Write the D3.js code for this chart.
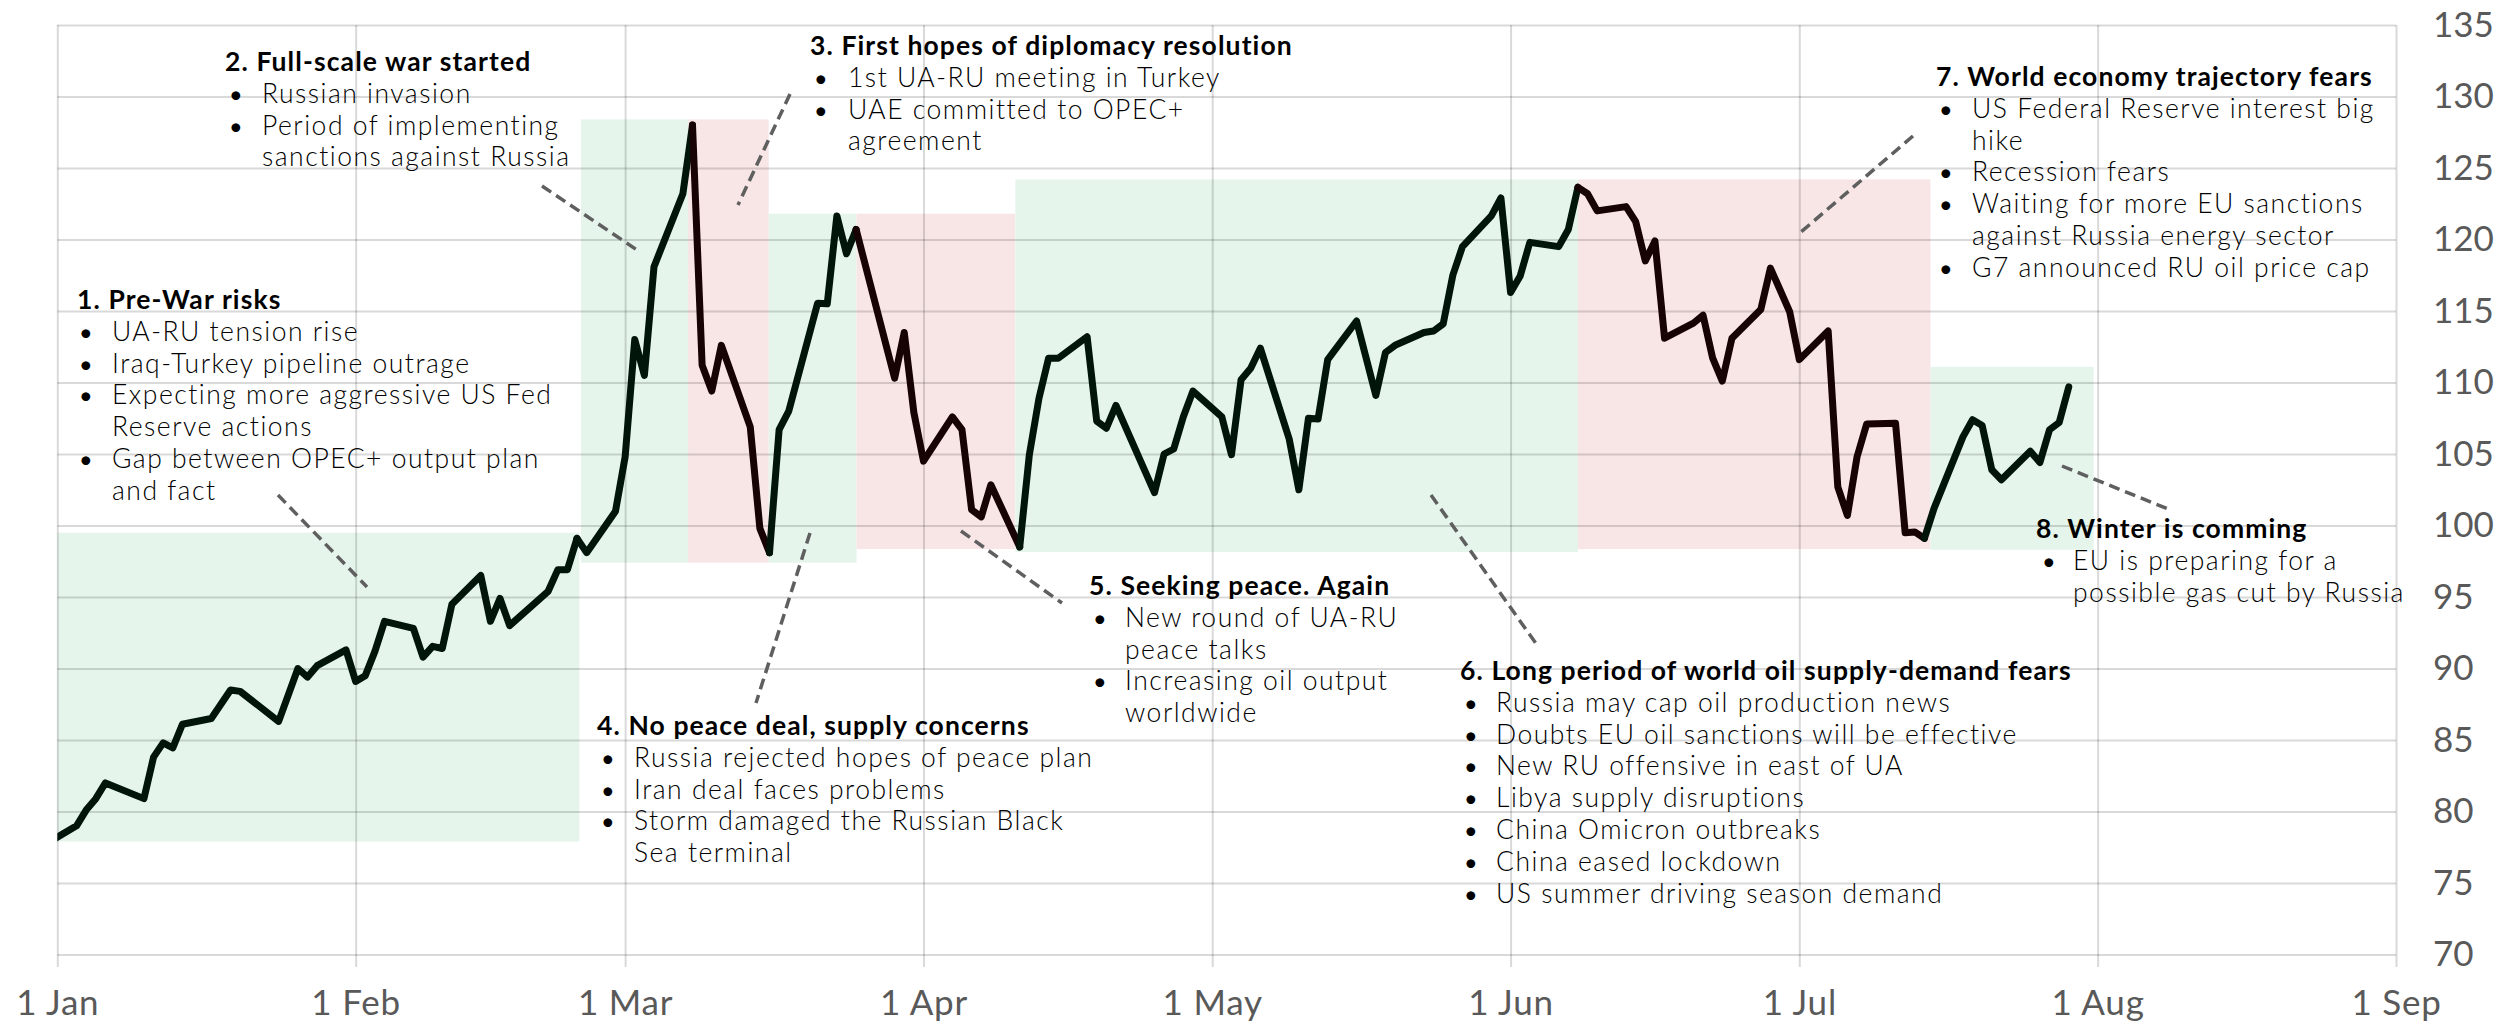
<!DOCTYPE html>
<html>
<head>
<meta charset="utf-8">
<script src="https://cdn.jsdelivr.net/npm/d3@7"></script>
<style>
  body { margin: 0; background: #fff; }
  text { font-family: Lato, "Open Sans", sans-serif; }
</style>
</head>
<body>
<script>
// Brent price (trading days only where the line bends)
const priceDates = [
  "2021-12-31","2022-01-03","2022-01-04","2022-01-05","2022-01-06","2022-01-10","2022-01-11","2022-01-12",
  "2022-01-13","2022-01-14","2022-01-17","2022-01-19","2022-01-20","2022-01-24","2022-01-26","2022-01-27",
  "2022-01-28","2022-01-31","2022-02-01","2022-02-02","2022-02-03","2022-02-04","2022-02-07","2022-02-08",
  "2022-02-09","2022-02-10","2022-02-11","2022-02-14","2022-02-15","2022-02-16","2022-02-17","2022-02-21",
  "2022-02-22","2022-02-23","2022-02-24","2022-02-25","2022-02-28","2022-03-01","2022-03-02","2022-03-03",
  "2022-03-04","2022-03-07","2022-03-08","2022-03-09","2022-03-10","2022-03-11","2022-03-14","2022-03-15",
  "2022-03-16","2022-03-17","2022-03-18","2022-03-21","2022-03-22","2022-03-23","2022-03-24","2022-03-25",
  "2022-03-29","2022-03-30","2022-03-31","2022-04-01","2022-04-04","2022-04-05","2022-04-06","2022-04-07",
  "2022-04-08","2022-04-11","2022-04-12","2022-04-13","2022-04-14","2022-04-15","2022-04-18","2022-04-19",
  "2022-04-20","2022-04-21","2022-04-25","2022-04-26","2022-04-27","2022-04-28","2022-04-29","2022-05-02",
  "2022-05-03","2022-05-04","2022-05-05","2022-05-06","2022-05-09","2022-05-10","2022-05-11","2022-05-12",
  "2022-05-13","2022-05-16","2022-05-18","2022-05-19","2022-05-20","2022-05-23","2022-05-24","2022-05-25",
  "2022-05-26","2022-05-27","2022-05-30","2022-05-31","2022-06-01","2022-06-02","2022-06-03","2022-06-06",
  "2022-06-07","2022-06-08","2022-06-09","2022-06-10","2022-06-13","2022-06-14","2022-06-15","2022-06-16",
  "2022-06-17","2022-06-20","2022-06-21","2022-06-22","2022-06-23","2022-06-24","2022-06-27","2022-06-28",
  "2022-06-30","2022-07-01","2022-07-04","2022-07-05","2022-07-06","2022-07-07","2022-07-08","2022-07-11",
  "2022-07-12","2022-07-13","2022-07-14","2022-07-15","2022-07-18","2022-07-19","2022-07-20","2022-07-21",
  "2022-07-22","2022-07-25","2022-07-26","2022-07-27","2022-07-28","2022-07-29"
];
const priceValues = [
  77.8, 79.0, 80.1, 80.9, 82.0, 80.9, 83.8, 84.8,
  84.45, 86.1, 86.5, 88.5, 88.4, 86.3, 90.0, 89.4,
  90.2, 91.3, 89.1, 89.5, 91.2, 93.3, 92.8, 90.8,
  91.55, 91.4, 94.5, 96.5, 93.3, 94.9, 93.0, 95.4,
  96.9, 96.9, 99.1, 98.1, 101.0, 104.8, 113.0, 110.5,
  118.1, 123.2, 128.0, 111.2, 109.4, 112.6, 106.9, 99.8,
  98.1, 106.7, 108.0, 115.55, 115.5, 121.65, 119.0, 120.7,
  110.3, 113.5, 107.9, 104.5, 107.6, 106.7, 101.1, 100.6,
  102.85, 98.5, 104.95, 108.9, 111.7, 111.7, 113.2, 107.3,
  106.8, 108.4, 102.3, 105.0, 105.35, 107.6, 109.4, 107.6,
  104.95, 110.2, 111.0, 112.4, 106.05, 102.5, 107.5, 107.45,
  111.6, 114.3, 109.1, 112.1, 112.6, 113.5, 113.6, 114.1,
  117.5, 119.5, 121.65, 122.9, 116.3, 117.45, 119.8, 119.5,
  120.7, 123.65, 123.2, 122.0, 122.3, 121.25, 118.5, 119.9,
  113.1, 114.15, 114.7, 111.7, 110.1, 113.1, 115.1, 118.0,
  114.95, 111.6, 113.6, 102.7, 100.7, 104.8, 107.1, 107.15,
  99.5, 99.55, 99.1, 101.2, 106.2, 107.4, 107.0, 103.9,
  103.2, 105.2, 104.4, 106.7, 107.2, 109.7
];

// dates where the line changes colour (period boundaries)
const lineBreaks = ["2022-02-24","2022-03-08","2022-03-16","2022-03-25","2022-04-11","2022-06-08","2022-07-14"];
const lineTypes = ["up","up","down","up","down","up","down","up"];

// shaded periods
const boxStart = ["2022-01-01T00:00","2022-02-24T10:00","2022-03-07T13:00","2022-03-15T22:00","2022-03-25T01:00","2022-04-10T13:00","2022-06-08T00:00","2022-07-14T15:00"];
const boxEnd   = ["2022-02-24T06:00","2022-03-07T13:00","2022-03-15T22:00","2022-03-25T01:00","2022-04-10T13:00","2022-06-08T00:00","2022-07-14T15:00","2022-07-31T14:00"];
const boxLow   = [77.9, 97.4, 97.4, 97.4, 98.35, 98.15, 98.35, 98.3];
const boxHigh  = [99.5, 128.4, 128.4, 121.8, 121.8, 124.2, 124.2, 111.1];
const boxType  = ["up","up","down","up","down","up","down","up"];

const monthTicks = ["2022-01-01","2022-02-01","2022-03-01","2022-04-01","2022-05-01","2022-06-01","2022-07-01","2022-08-01","2022-09-01"];
const yTicks = [70, 75, 80, 85, 90, 95, 100, 105, 110, 115, 120, 125, 130, 135];

const noteTitles = [
  "1. Pre-War risks",
  "2. Full-scale war started",
  "3. First hopes of diplomacy resolution",
  "4. No peace deal, supply concerns",
  "5. Seeking peace. Again",
  "6. Long period of world oil supply-demand fears",
  "7. World economy trajectory fears",
  "8. Winter is comming"
];
const noteBullets = [
  [["UA-RU tension rise"], ["Iraq-Turkey pipeline outrage"], ["Expecting more aggressive US Fed", "Reserve actions"], ["Gap between OPEC+ output plan", "and fact"]],
  [["Russian invasion"], ["Period of implementing", "sanctions against Russia"]],
  [["1st UA-RU meeting in Turkey"], ["UAE committed to OPEC+", "agreement"]],
  [["Russia rejected hopes of peace plan"], ["Iran deal faces problems"], ["Storm damaged the Russian Black", "Sea terminal"]],
  [["New round of UA-RU", "peace talks"], ["Increasing oil output", "worldwide"]],
  [["Russia may cap oil production news"], ["Doubts EU oil sanctions will be effective"], ["New RU offensive in east of UA"], ["Libya supply disruptions"], ["China Omicron outbreaks"], ["China eased lockdown"], ["US summer driving season demand"]],
  [["US Federal Reserve interest big", "hike"], ["Recession fears"], ["Waiting for more EU sanctions", "against Russia energy sector"], ["G7 announced RU oil price cap"]],
  [["EU is preparing for a", "possible gas cut by Russia"]]
];

// --- layout ---
const W = 2497, H = 1022;
const plotLeft = 57.3, plotRight = 2396, plotTop = 25, plotBottom = 954.5, tickBottom = 967;
const lineH = 31.8;
const fontSize = 26.5;
const titleSpacing = 1.1;
const bodySpacing = 1.5;
const colors = {
  upFill: "#e5f5eb", downFill: "#f8e5e5",
  upLine: "#02150b", downLine: "#170303",
  grid: "rgba(0,0,0,0.15)", axisText: "#595959", note: "#000", connector: "#5f5f5f"
};
// title x, title baseline, bullet x, text x, connector [x1,y1,x2,y2]
const noteLayout = [
  { tx: 77, ty: 309, bx: 79, lx: 112, c: [278, 495, 367, 587] },
  { tx: 225, ty: 71, bx: 229, lx: 262, c: [542, 186, 640, 252] },
  { tx: 810, ty: 55, bx: 814, lx: 848, c: [790, 94, 738, 205] },
  { tx: 597, ty: 735, bx: 601, lx: 634, c: [810, 533, 756, 703] },
  { tx: 1089, ty: 595, bx: 1093, lx: 1125, c: [961, 531, 1062, 603] },
  { tx: 1460, ty: 680, bx: 1464, lx: 1496, c: [1431, 495, 1537, 645] },
  { tx: 1936, ty: 86, bx: 1939, lx: 1972, c: [1913, 136, 1801, 232] },
  { tx: 2036, ty: 538, bx: 2042, lx: 2073, c: [2062, 466, 2168, 509] }
];

const parseDay = d3.timeParse("%Y-%m-%d");
const data = priceDates.map((d, i) => ({ date: parseDay(d), value: priceValues[i] }));

const x = d3.scaleTime()
  .domain([parseDay("2022-01-01"), parseDay("2022-09-01")])
  .range([plotLeft, plotRight]);
const y = d3.scaleLinear().domain([70, 135]).range([plotBottom, plotTop]);

const svg = d3.select("body").append("svg")
  .attr("width", W).attr("height", H);

svg.append("defs").append("clipPath").attr("id", "plot-clip")
  .append("rect")
  .attr("x", plotLeft).attr("y", 0)
  .attr("width", plotRight - plotLeft).attr("height", H);

// shaded periods
svg.append("g").selectAll("rect")
  .data(boxStart.map((s, i) => ({ s: new Date(s), e: new Date(boxEnd[i]), lo: boxLow[i], hi: boxHigh[i], t: boxType[i] })))
  .join("rect")
  .attr("x", d => x(d.s))
  .attr("y", d => y(d.hi))
  .attr("width", d => x(d.e) - x(d.s))
  .attr("height", d => y(d.lo) - y(d.hi))
  .attr("fill", d => d.t === "up" ? colors.upFill : colors.downFill);

// horizontal grid
const gy = svg.append("g")
  .attr("transform", `translate(${plotLeft},0)`)
  .call(d3.axisLeft(y).tickValues(yTicks).tickSize(-(plotRight - plotLeft)).tickFormat(""));
gy.select(".domain").remove();
gy.selectAll(".tick line").attr("stroke", colors.grid).attr("stroke-width", 2);

// vertical grid + month labels
const gx = svg.append("g")
  .attr("transform", `translate(0,${tickBottom})`)
  .call(d3.axisBottom(x)
    .tickValues(monthTicks.map(parseDay))
    .tickSize(-(tickBottom - plotTop))
    .tickPadding(23)
    .tickFormat(d3.timeFormat("%-d %b")));
gx.select(".domain").remove();
gx.selectAll(".tick line").attr("stroke", colors.grid).attr("stroke-width", 2);
gx.selectAll(".tick text")
  .attr("font-size", 35)
  .attr("font-family", "Lato, sans-serif")
  .attr("letter-spacing", 0.8)
  .attr("fill", colors.axisText);

// value labels on the right
const gr = svg.append("g")
  .attr("transform", `translate(${plotRight},0)`)
  .call(d3.axisRight(y).tickValues(yTicks).tickSize(0).tickPadding(37));
gr.select(".domain").remove();
gr.selectAll(".tick text")
  .attr("font-size", 35)
  .attr("font-family", "Lato, sans-serif")
  .attr("fill", colors.axisText);

// price line, coloured by period
const line = d3.line().x(d => x(d.date)).y(d => y(d.value));
const bounds = [null, ...lineBreaks.map(parseDay), null];
const lineG = svg.append("g").attr("clip-path", "url(#plot-clip)");
lineTypes.forEach((t, i) => {
  const a = bounds[i], b = bounds[i + 1];
  const seg = data.filter(d => (!a || d.date >= a) && (!b || d.date <= b));
  lineG.append("path")
    .datum(seg)
    .attr("d", line)
    .attr("fill", "none")
    .attr("stroke", t === "up" ? colors.upLine : colors.downLine)
    .attr("stroke-width", 7)
    .attr("stroke-linejoin", "round")
    .attr("stroke-linecap", "round");
});

// annotations
const notes = svg.append("g");
noteTitles.forEach((title, i) => {
  const L = noteLayout[i];
  notes.append("line")
    .attr("x1", L.c[0]).attr("y1", L.c[1])
    .attr("x2", L.c[2]).attr("y2", L.c[3])
    .attr("stroke", colors.connector)
    .attr("stroke-width", 3.5)
    .attr("stroke-dasharray", "11,6");

  notes.append("text")
    .attr("x", L.tx).attr("y", L.ty)
    .attr("font-size", fontSize)
    .attr("font-weight", 700)
    .attr("letter-spacing", titleSpacing)
    .attr("fill", colors.note)
    .text(title);

  let curY = L.ty + lineH;
  noteBullets[i].forEach(item => {
    notes.append("text")
      .attr("x", L.bx).attr("y", curY)
      .attr("font-size", fontSize - 3)
      .attr("fill", colors.note)
      .text("\u2022");
    item.forEach(str => {
      notes.append("text")
        .attr("x", L.lx).attr("y", curY)
        .attr("font-size", fontSize)
        .attr("font-weight", 300)
        .attr("letter-spacing", bodySpacing)
        .attr("fill", colors.note)
        .text(str);
      curY += lineH;
    });
  });
});
</script>
</body>
</html>
